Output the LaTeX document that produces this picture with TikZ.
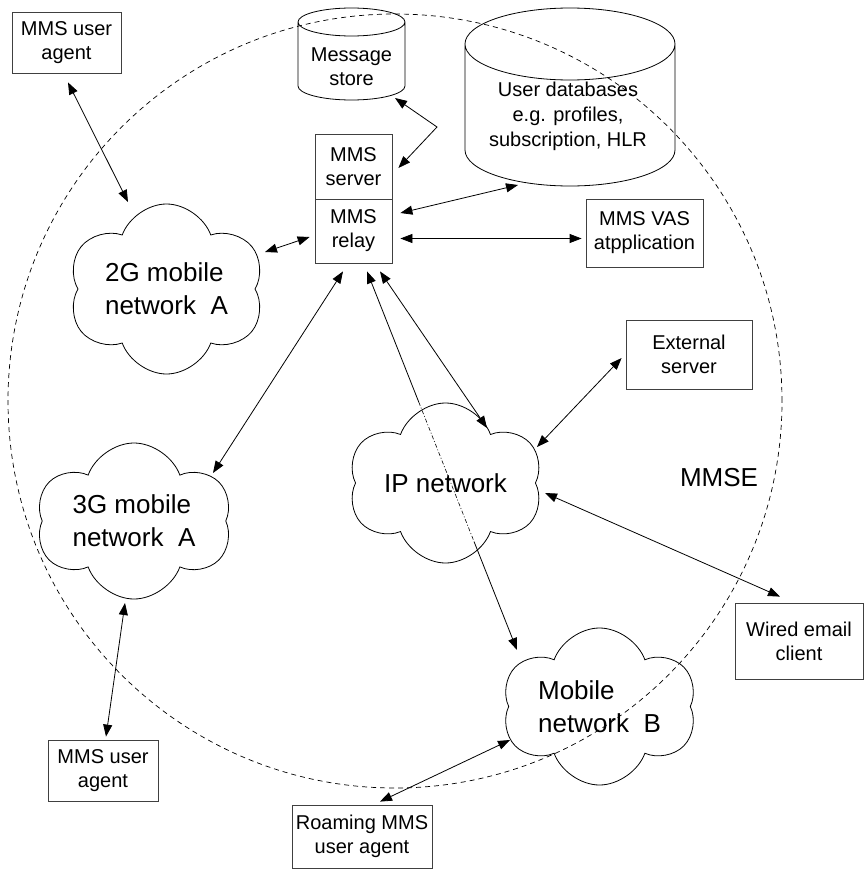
\documentclass[tikz,border=0pt]{standalone}
\usepackage{fontspec}
\setmainfont{Liberation Sans}
\usetikzlibrary{arrows.meta,shapes.symbols,calc}

\tikzset{
  box/.style={draw=black!75,line width=0.8pt,align=center,inner sep=0pt,font=\fontsize{20}{24}\selectfont},
  net/.style={cloud,draw,line width=0.8pt,cloud puffs=6,cloud puff arc=140,cloud ignores aspect,align=left,inner sep=0pt,font=\fontsize{26}{33}\selectfont},
  link/.style={line width=0.8pt,>={Triangle[length=12pt,width=9pt]}},
}
\newcommand{\drum}[5]{\draw[line width=0.8pt] ({#1-#4},#2) -- ({#1-#4},#3) arc[start angle=180,end angle=360,x radius=#4,y radius=#5] -- ({#1+#4},#2) arc[start angle=0,end angle=360,x radius=#4,y radius=#5];}

\begin{document}
\begin{tikzpicture}[x=1pt,y=1pt]
\useasboundingbox (0,0) rectangle (864,-870);
\draw[line width=0.7pt,dash pattern=on 5pt off 4pt] (395,-401) circle[radius=387];

\drum{351.5}{-22}{-86}{53.5}{14}
\drum{570}{-44}{-150}{105}{36}
\node[font=\fontsize{20}{24}\selectfont,align=center] (ms) at (351.5,-67) {Message\\store};
\node[font=\fontsize{20}{25}\selectfont,align=center] (udb) at (568,-116) {User databases\\e.g. profiles,\\subscription, HLR};

\node[box,minimum width=109pt,minimum height=61pt] (ua1) at (66.5,-42.5) {MMS user\\agent};
\node[box,minimum width=77pt,minimum height=65pt] (srv) at (353.5,-166.5) {MMS\\server};
\node[box,minimum width=77pt,minimum height=64pt] (rly) at (353.5,-231) {MMS\\relay};
\node[box,minimum width=117pt,minimum height=68pt] (vas) at (644.5,-233) {MMS VAS\\atpplication};
\node[box,minimum width=126pt,minimum height=69pt] (ext) at (689,-354.5) {External\\server};
\node[box,minimum width=128pt,minimum height=76pt] (wec) at (799,-641) {Wired email\\client};
\node[box,minimum width=110pt,minimum height=61pt] (ua2) at (103,-770.5) {MMS user\\agent};
\node[box,minimum width=140pt,minimum height=63pt] (roam) at (362,-836.5) {Roaming MMS\\user agent};

\node[net,minimum width=197pt,minimum height=170pt] (c2g) at (166.5,-289) {2G mobile\\network\ \ A};
\node[net,minimum width=196pt,minimum height=156pt] (c3g) at (134,-521) {3G mobile\\network\ \ A};
\node[net,minimum width=195pt,minimum height=160pt] (cip) at (445.5,-483) {IP network};
\node[net,minimum width=195pt,minimum height=157pt] (cmb) at (599.5,-706.5) {Mobile\\network\ \ B};
\node[font=\fontsize{26}{33}\selectfont,anchor=base] (mmse) at (719,-486) {MMSE};

\draw[link,<->] ([shift={(1.5,-9)}]ua1.south) -- ([shift={(-38.5,87)}]c2g.center);
\draw[link,<->] ([shift={(98.5,37)}]c2g.center) -- ([shift={(-5,-6)}]rly.west);
\coordinate (msbend) at (437,-127);
\draw[link,<->] ([shift={(43.5,-31)}]ms.center) -- (msbend) -- ([shift={(6,-1.5)}]srv.east);
\draw[link,<->] ([shift={(8,18)}]rly.east) -- ([shift={(-50,-69)}]udb.center);
\draw[link,<->] ([shift={(8,-7.5)}]rly.east) -- ([shift={(-4,-5.5)}]vas.west);
\draw[link,<->] ([shift={(-10.5,-8)}]rly.south) -- ([shift={(79,48)}]c3g.center);
\draw[link,<->] ([shift={(26.5,-8)}]rly.south) -- ([shift={(41.5,55)}]cip.center);
\coordinate (mbA) at ([shift={(13.5,-8)}]rly.south);
\coordinate (mbB) at ([shift={(-82.5,56.5)}]cmb.center);
\draw[link,<-] (mbA) -- ($(mbA)!0.345!(mbB)$);
\draw[line width=0.6pt,dash pattern=on 4pt off 2pt on 1pt off 2pt] ($(mbA)!0.345!(mbB)$) -- ($(mbA)!0.715!(mbB)$);
\draw[link,->] ($(mbA)!0.715!(mbB)$) -- (mbB);
\draw[link,<->] ([shift={(-4,-3.5)}]ext.west) -- ([shift={(91.5,36)}]cip.center);
\draw[link,<->] ([shift={(-19,6)}]wec.north) -- ([shift={(99.5,-10)}]cip.center);
\draw[link,<->] ([shift={(-9,-82)}]c3g.center) -- ([shift={(3,3)}]ua2.north);
\draw[link,<->] ([shift={(-89.5,-33.5)}]cmb.center) -- ([shift={(18,3)}]roam.north);
\end{tikzpicture}
\end{document}
